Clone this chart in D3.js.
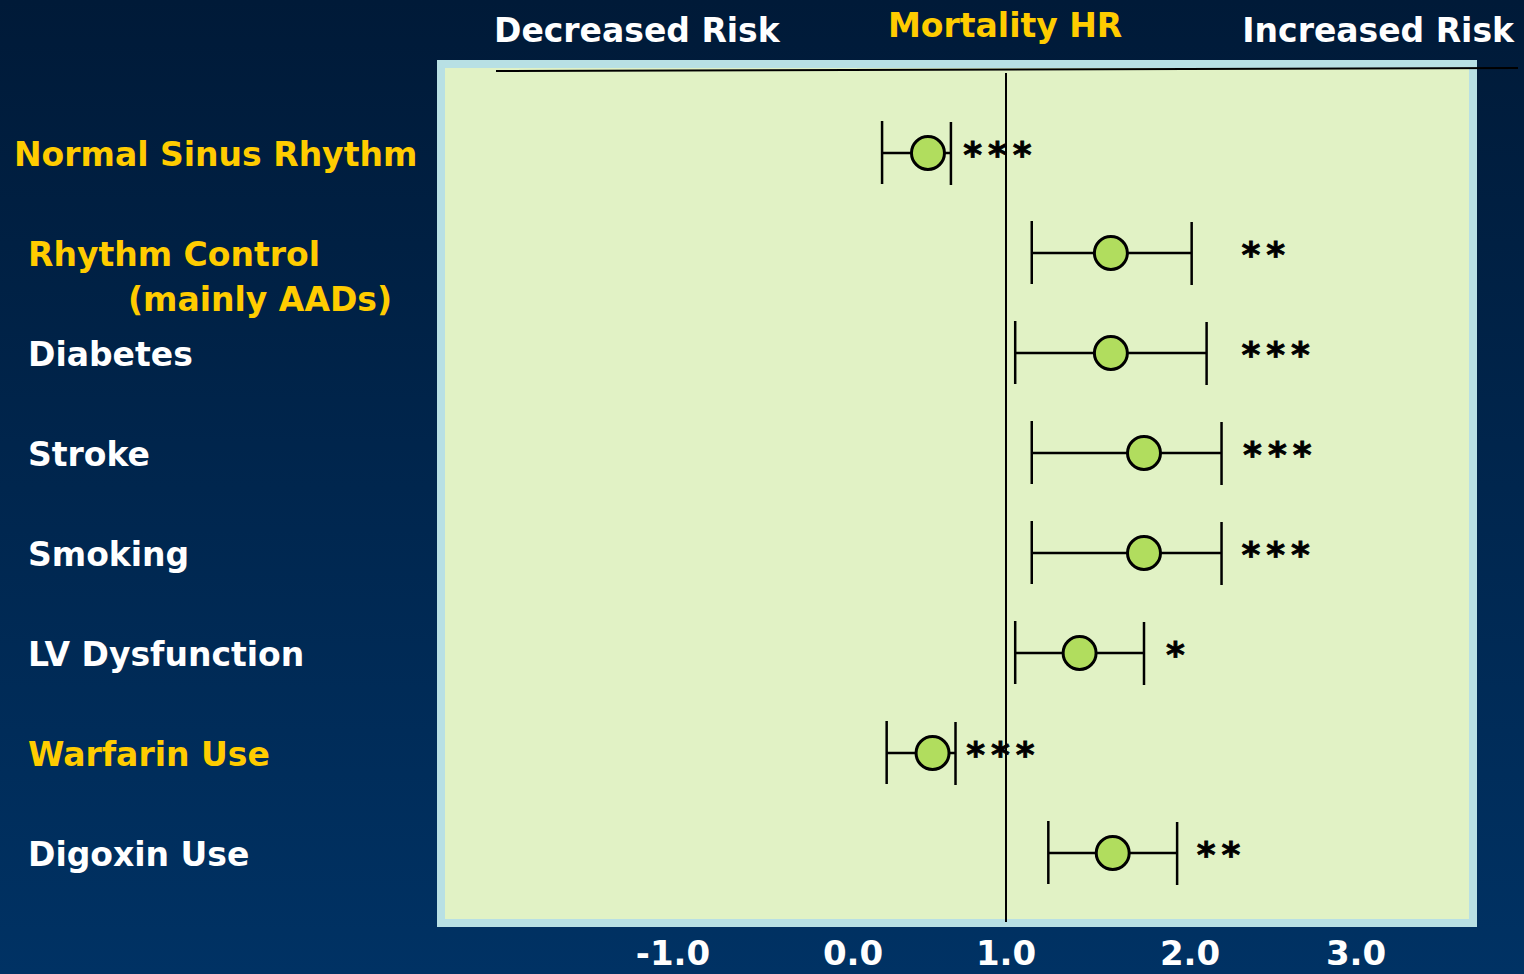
<!doctype html>
<html lang="en">
<head>
    <meta charset="utf-8">
    <title>Mortality HR</title>
    <style>
        body { margin: 0; overflow: hidden; }
        svg { display: block; }
        text { font-family: "DejaVu Sans", Verdana, sans-serif; font-weight: bold; }
    </style>
</head>
<body>
    <div id="my_dataviz"></div>

    <script src="https://d3js.org/d3.v7.min.js"></script>
    <script>
        // row labels, top to bottom
        var categories = ["Normal Sinus Rhythm", "Rhythm Control", "Diabetes", "Stroke",
            "Smoking", "LV Dysfunction", "Warfarin Use", "Digoxin Use"]
        var highlighted = [true, true, false, false, false, false, true, false]
        // hazard ratio estimates and interval ends
        var hr = [0.49, 1.57, 1.57, 1.75, 1.75, 1.40, 0.52, 1.58]
        var lower = [0.19, 1.14, 1.05, 1.14, 1.14, 1.05, 0.22, 1.23]
        var upper = [0.64, 2.01, 2.10, 2.19, 2.19, 1.75, 0.67, 1.93]
        // significance stars and where they start (HR units)
        var stars = ["***", "**", "***", "***", "***", "*", "***", "**"]
        var starsAt = [0.72, 2.31, 2.31, 2.32, 2.31, 1.87, 0.74, 2.04]
        var tickValues = [-1, 0, 1, 2, 3]
        var tickLabels = ["-1.0", "0.0", "1.0", "2.0", "3.0"]

        var width = 1524
        var height = 974

        var svg = d3.select("#my_dataviz")
            .append("svg")
            .attr("width", width)
            .attr("height", height)

        var defs = svg.append("defs")
        var grad = defs.append("linearGradient")
            .attr("id", "bg")
            .attr("x1", 0).attr("y1", 0).attr("x2", 0).attr("y2", 1)
        grad.append("stop").attr("offset", "0%").attr("stop-color", "#001a38")
        grad.append("stop").attr("offset", "100%").attr("stop-color", "#003264")

        svg.append("rect")
            .attr("width", width)
            .attr("height", height)
            .attr("fill", "url(#bg)")

        // the tick labels on the slide are not evenly spaced, so the scale is piecewise
        var x = d3.scaleLinear()
            .domain(tickValues)
            .range([673, 853, 1006, 1190, 1356])

        var y = d3.scalePoint()
            .domain(categories)
            .range([153, 853])

        // panel
        svg.append("rect")
            .attr("x", 437).attr("y", 60)
            .attr("width", 1040).attr("height", 867)
            .attr("fill", "#b8e0e4")
        svg.append("rect")
            .attr("x", 445).attr("y", 68)
            .attr("width", 1024).attr("height", 851)
            .attr("fill", "#e1f2c5")

        // top rule
        svg.append("line")
            .attr("x1", 496).attr("y1", 71)
            .attr("x2", 1518).attr("y2", 68)
            .attr("stroke", "black")
            .attr("stroke-width", 2)

        // reference line at HR = 1
        svg.append("line")
            .attr("x1", x(1)).attr("x2", x(1))
            .attr("y1", 73).attr("y2", 922)
            .attr("stroke", "black")
            .attr("stroke-width", 2)

        // header
        var head = svg.append("g").attr("font-size", 33)
        head.append("text").attr("x", 494).attr("y", 42).attr("fill", "white").text("Decreased Risk")
        head.append("text").attr("x", 888).attr("y", 37).attr("fill", "#ffcc00").text("Mortality HR")
        head.append("text").attr("x", 1514).attr("y", 42).attr("fill", "white")
            .attr("text-anchor", "end").text("Increased Risk")

        // row labels
        var labels = svg.append("g").attr("font-size", 33)
        labels.selectAll("text")
            .data(categories)
            .enter()
            .append("text")
            .attr("x", function(d, i) { return i == 0 ? 14 : 28 })
            .attr("y", function(d) { return y(d) + 13 })
            .attr("fill", function(d, i) { return highlighted[i] ? "#ffcc00" : "white" })
            .text(function(d) { return d })
        labels.append("text")
            .attr("x", 128)
            .attr("y", y("Rhythm Control") + 58)
            .attr("fill", "#ffcc00")
            .text("(mainly AADs)")

        // error bars
        var rows = svg.selectAll(".row")
            .data(categories)
            .enter()
            .append("g")
            .attr("class", "row")
            .attr("stroke", "black")
            .attr("stroke-width", 2.5)

        rows.append("line")
            .attr("x1", function(d, i) { return x(lower[i]) })
            .attr("x2", function(d, i) { return x(upper[i]) })
            .attr("y1", function(d) { return y(d) })
            .attr("y2", function(d) { return y(d) })

        rows.append("line")
            .attr("x1", function(d, i) { return x(lower[i]) })
            .attr("x2", function(d, i) { return x(lower[i]) })
            .attr("y1", function(d) { return y(d) - 32 })
            .attr("y2", function(d) { return y(d) + 31 })

        rows.append("line")
            .attr("x1", function(d, i) { return x(upper[i]) })
            .attr("x2", function(d, i) { return x(upper[i]) })
            .attr("y1", function(d) { return y(d) - 31 })
            .attr("y2", function(d) { return y(d) + 32 })

        rows.append("circle")
            .attr("cx", function(d, i) { return x(hr[i]) })
            .attr("cy", function(d) { return y(d) })
            .attr("r", 16.5)
            .attr("stroke-width", 3)
            .attr("fill", "#b1dd5e")

        // significance
        svg.append("g")
            .selectAll("text")
            .data(categories)
            .enter()
            .append("text")
            .attr("x", function(d, i) { return x(starsAt[i]) })
            .attr("y", function(d) { return y(d) + 14 })
            .attr("font-size", 36)
            .attr("letter-spacing", 6)
            .attr("fill", "black")
            .attr("stroke", "black")
            .attr("stroke-width", 0.8)
            .text(function(d, i) { return stars[i] })

        // x tick labels
        svg.append("g")
            .selectAll("text")
            .data(tickValues)
            .enter()
            .append("text")
            .attr("x", function(d) { return x(d) })
            .attr("y", 965)
            .attr("text-anchor", "middle")
            .attr("font-size", 34)
            .attr("fill", "white")
            .text(function(d, i) { return tickLabels[i] })
    </script>
</body>
</html>
